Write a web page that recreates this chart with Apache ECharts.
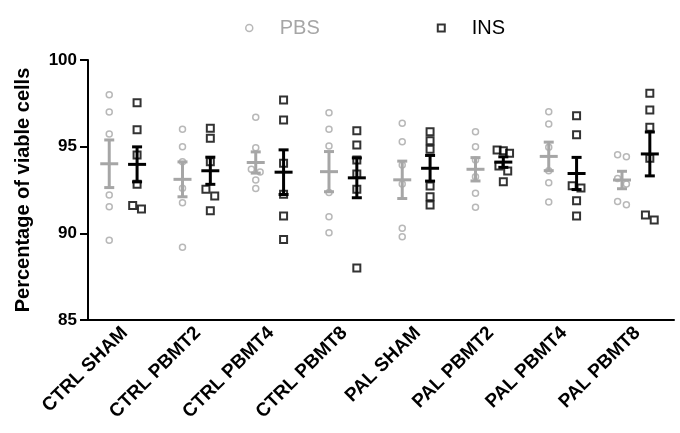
<!DOCTYPE html>
<html>
<head>
<meta charset="utf-8">
<script src="https://cdn.jsdelivr.net/npm/echarts@6/dist/echarts.min.js"></script>
<style>html,body{margin:0;padding:0;background:#fff}#c{width:680px;height:433px}</style>
</head>
<body>
<div id="c"></div>
<script>
const categories = ['CTRL SHAM','CTRL PBMT2','CTRL PBMT4','CTRL PBMT8','PAL SHAM','PAL PBMT2','PAL PBMT4','PAL PBMT8'];
const pbsValues = [
  [98.0, 97.0, 95.73, 92.21, 91.54, 89.6],
  [96.0, 95.0, 94.13, 92.6, 91.77, 89.19],
  [96.69, 94.94, 93.69, 93.54, 93.08, 92.58],
  [96.96, 96.0, 95.04, 92.35, 90.96, 90.04],
  [96.35, 95.29, 93.94, 92.85, 90.29, 89.8],
  [95.86, 95.0, 94.23, 93.27, 92.31, 91.5],
  [97.02, 96.31, 94.96, 93.61, 92.92, 91.81],
  [94.54, 94.42, 93.17, 92.85, 91.83, 91.65]
];
const insValues = [
  [97.54, 95.98, 94.52, 92.83, 91.6, 91.4],
  [96.06, 95.48, 94.13, 92.54, 92.15, 91.3],
  [97.69, 96.54, 94.04, 92.25, 91.0, 89.65],
  [95.92, 95.1, 94.23, 93.42, 92.54, 88.0],
  [95.86, 95.34, 94.85, 92.73, 92.11, 91.63],
  [94.81, 94.77, 94.62, 93.88, 93.6, 92.98],
  [96.79, 95.69, 92.75, 92.61, 91.88, 91.0],
  [98.08, 97.12, 96.12, 94.33, 91.06, 90.77]
];
const yTicks = [85, 90, 95, 100];

const FONT = '"Liberation Sans", Arial, sans-serif';
const GRAY = '#a6a6a6';
const PBS_OFF = -0.21, INS_OFF = 0.17;

// simple column scatter: spread points whose values are very close
function columnPoints(groups, off) {
  const pts = [];
  groups.forEach((vals, gi) => {
    const sorted = vals.slice().sort((a, b) => b - a);
    let i = 0;
    while (i < sorted.length) {
      let j = i;
      while (j + 1 < sorted.length && sorted[j] - sorted[j + 1] < 0.4) j++;
      const n = j - i + 1;
      const step = n === 2 ? 0.12 : 0.085;
      for (let k = i; k <= j; k++) {
        const dx = n > 1 ? (k - i - (n - 1) / 2) * step : 0;
        pts.push([gi + off + dx, sorted[k]]);
      }
      i = j + 1;
    }
  });
  return pts;
}
function stats(groups, off) {
  return groups.map((vals, gi) => {
    const n = vals.length;
    const m = vals.reduce((a, b) => a + b, 0) / n;
    const sd = Math.sqrt(vals.reduce((a, b) => a + (b - m) * (b - m), 0) / (n - 1));
    const se = sd / Math.sqrt(n);
    return [gi + off, m, m - se, m + se];
  });
}
function errRender(color) {
  return function (params, api) {
    const x = api.value(0);
    const pm = api.coord([x, api.value(1)]);
    const plo = api.coord([x, api.value(2)]);
    const phi = api.coord([x, api.value(3)]);
    const st = { stroke: color, lineWidth: 3 };
    const capW = 5, meanW = 9;
    return {
      type: 'group',
      children: [
        { type: 'line', shape: { x1: pm[0], y1: plo[1], x2: pm[0], y2: phi[1] }, style: st },
        { type: 'line', shape: { x1: pm[0] - capW, y1: plo[1], x2: pm[0] + capW, y2: plo[1] }, style: st },
        { type: 'line', shape: { x1: pm[0] - capW, y1: phi[1], x2: pm[0] + capW, y2: phi[1] }, style: st },
        { type: 'line', shape: { x1: pm[0] - meanW, y1: pm[1], x2: pm[0] + meanW, y2: pm[1] }, style: st }
      ]
    };
  };
}

const chart = echarts.init(document.getElementById('c'), null, { renderer: 'canvas' });
chart.setOption({
  animation: false,
  backgroundColor: '#fff',
  textStyle: { fontFamily: FONT },
  legend: {
    left: 240, top: 13,
    itemWidth: 7, itemHeight: 7, itemGap: 117,
    textStyle: { fontSize: 20, fontFamily: FONT, padding: [0, 0, 0, 22] },
    data: [
      { name: 'PBS', icon: 'circle', itemStyle: { color: '#fff', borderColor: GRAY, borderWidth: 1.5 }, textStyle: { color: GRAY } },
      { name: 'INS', icon: 'rect', itemStyle: { color: '#fff', borderColor: '#000', borderWidth: 2 }, textStyle: { color: '#000' } }
    ]
  },
  grid: { left: 88, right: 6, top: 60, bottom: 113 },
  xAxis: [
    {
      type: 'category', data: categories, boundaryGap: true,
      axisLine: { onZero: false, lineStyle: { color: '#000', width: 2 } },
      axisTick: { alignWithLabel: true, length: 7, lineStyle: { color: '#000', width: 2 } },
      axisLabel: { rotate: 45, fontSize: 19, fontWeight: 'bold', color: '#000', fontFamily: FONT, margin: 10 }
    },
    { type: 'value', min: -0.5, max: 7.5, show: false }
  ],
  yAxis: {
    type: 'value', min: yTicks[0], max: yTicks[yTicks.length - 1], interval: 5,
    name: 'Percentage of viable cells', nameLocation: 'middle', nameGap: 55,
    nameTextStyle: { fontSize: 20, fontWeight: 'bold', color: '#000', fontFamily: FONT },
    axisLine: { show: true, onZero: false, lineStyle: { color: '#000', width: 2 } },
    axisTick: { show: true, length: 8, lineStyle: { color: '#000', width: 2 } },
    axisLabel: { fontSize: 17, fontWeight: 'bold', color: '#000', fontFamily: FONT, margin: 11 },
    splitLine: { show: false }
  },
  series: [
    {
      name: 'PBS', type: 'scatter', xAxisIndex: 1, symbol: 'circle', symbolSize: 6, z: 2,
      itemStyle: { color: 'rgba(255,255,255,0)', borderColor: GRAY, borderWidth: 1.5 },
      data: columnPoints(pbsValues, PBS_OFF)
    },
    {
      name: 'INS', type: 'scatter', xAxisIndex: 1, symbol: 'rect', symbolSize: 7, z: 2,
      itemStyle: { color: 'rgba(255,255,255,0)', borderColor: '#000', borderWidth: 2 },
      data: columnPoints(insValues, INS_OFF)
    },
    {
      name: 'PBS err', type: 'custom', xAxisIndex: 1, z: 3, renderItem: errRender(GRAY),
      data: stats(pbsValues, PBS_OFF)
    },
    {
      name: 'INS err', type: 'custom', xAxisIndex: 1, z: 3, renderItem: errRender('#000'),
      data: stats(insValues, INS_OFF)
    }
  ]
});
</script>
</body>
</html>
